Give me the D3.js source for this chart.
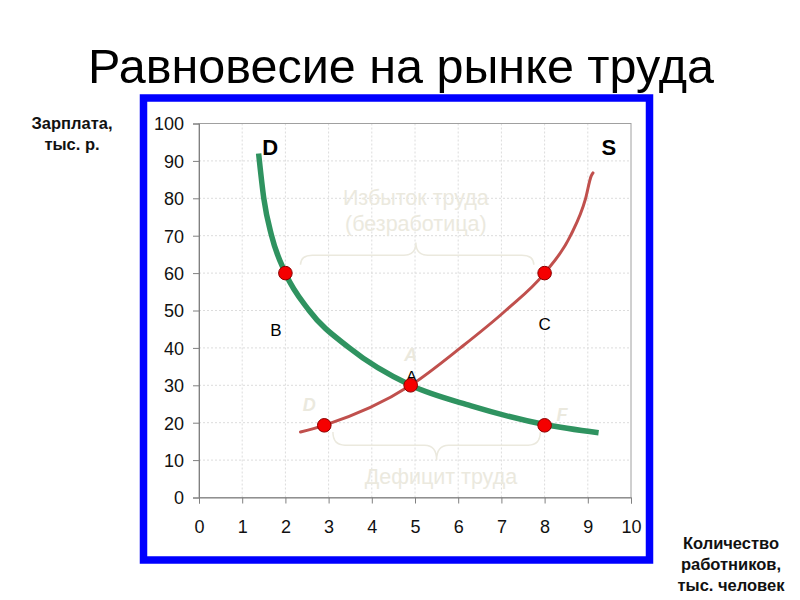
<!DOCTYPE html>
<html><head><meta charset="utf-8">
<script src="https://cdn.jsdelivr.net/npm/d3@7"></script>
<style>body{margin:0;background:#fff}svg{display:block}text{font-family:"Liberation Sans",Arial,sans-serif}</style>
</head><body>
<svg id="c" width="800" height="600"></svg>
<script>
const xTicks = [0,1,2,3,4,5,6,7,8,9,10];
const yTicks = [0,10,20,30,40,50,60,70,80,90,100];
const demandX = [1.38,1.5,1.68,2.0,2.55,3.48,4.9,6.3,8.0,9.25];
const demandY = [92,80,70,60,50,40,30,24.5,19.5,17.3];
const supplyX = [2.35,2.9,4.9,6.05,7.1,8.0,8.6,8.95,9.08,9.12];
const supplyY = [17.5,19.3,30,40,50,60,70,80,86,86.8];
const pointX = [2,8,4.9,2.9,8];
const pointY = [60,60,30,19.3,19.3];

const svg = d3.select("#c");
const x = d3.scaleLinear().domain([0,10]).range([199,631]);
const y = d3.scaleLinear().domain([0,100]).range([497.5,123.5]);

// title
svg.append("text").attr("x",401).attr("y",83).attr("text-anchor","middle")
  .attr("font-size",48.5).attr("fill","#000").text("Равновесие на рынке труда");

// blue frame
svg.append("rect").attr("x",143.5).attr("y",98).attr("width",506).attr("height",462)
  .attr("fill","#fff").attr("stroke","#0000ff").attr("stroke-width",7.5);

// grid
const g = svg.append("g");
g.selectAll(".vg").data(xTicks.slice(1,-1)).join("line")
  .attr("x1",d=>x(d)).attr("x2",d=>x(d)).attr("y1",y(100)).attr("y2",y(0))
  .attr("stroke","#dcdcdc").attr("stroke-dasharray","2,2").attr("stroke-width",1);
g.selectAll(".hg").data(yTicks.slice(1,-1)).join("line")
  .attr("x1",x(0)).attr("x2",x(10)).attr("y1",d=>y(d)).attr("y2",d=>y(d))
  .attr("stroke","#dcdcdc").attr("stroke-dasharray","2,2").attr("stroke-width",1);
g.append("rect").attr("x",x(0)).attr("y",y(100)).attr("width",x(10)-x(0)).attr("height",y(0)-y(100))
  .attr("fill","none").attr("stroke","#a0a0a0").attr("stroke-width",1);

// axes
const xAxis = d3.axisBottom(x).tickValues(xTicks).tickSize(6).tickPadding(17).tickFormat(d3.format("d"));
const ya = d3.axisLeft(y).tickValues(yTicks).tickSize(6).tickPadding(9).tickFormat(d3.format("d"));
const gx = svg.append("g").attr("transform",`translate(0,${y(0)})`).call(xAxis);
const gy = svg.append("g").attr("transform",`translate(${x(0)},0)`).call(ya);
[gx,gy].forEach(a=>{
  a.select(".domain").attr("stroke","#808080");
  a.selectAll(".tick line").attr("stroke","#808080");
  a.selectAll(".tick text").attr("font-size",18).attr("fill","#111")
   .attr("font-family","Liberation Sans, Arial, sans-serif");
});
gy.selectAll(".tick text").attr("dy","0.35em");

// faint annotations
const faint = "#ebe9de";
function brace(x1,x2,cx,y0,ym,tip){
  const q = 12*Math.sign(x2-x1);
  return `M${x1},${y0} Q${x1},${ym} ${x1+q},${ym} L${cx-q},${ym} Q${cx},${ym} ${cx},${tip} Q${cx},${ym} ${cx+q},${ym} L${x2-q},${ym} Q${x2},${ym} ${x2},${y0}`;
}
svg.append("path").attr("d",brace(x(2.35),x(7.75),x(5.02),y(62.2),y(64.8),y(68.2)))
  .attr("fill","none").attr("stroke",faint).attr("stroke-width",1.5);
svg.append("path").attr("d",brace(x(3.1),x(7.9),x(5.5),y(17.5),y(14),y(10)))
  .attr("fill","none").attr("stroke",faint).attr("stroke-width",1.5);
svg.append("text").attr("x",x(5.02)).attr("y",y(78.2)).attr("text-anchor","middle")
  .attr("font-size",21.5).attr("fill",faint).text("Избыток труда");
svg.append("text").attr("x",x(5.02)).attr("y",y(71.3)).attr("text-anchor","middle")
  .attr("font-size",21.5).attr("fill",faint).text("(безработица)");
svg.append("text").attr("x",x(5.6)).attr("y",y(3.7)).attr("text-anchor","middle")
  .attr("font-size",21.5).attr("fill",faint).text("Дефицит труда");
[["A",4.9,36.5],["D",2.55,23.2],["F",8.4,20.5]].forEach(([t,a,b])=>{
  svg.append("text").attr("x",x(a)).attr("y",y(b)).attr("text-anchor","middle")
    .attr("font-size",18).attr("font-weight","bold").attr("font-style","italic")
    .attr("fill",faint).text(t);
});

// curves
const line = d3.line().x(d=>x(d[0])).y(d=>y(d[1])).curve(d3.curveMonotoneX);
const demand = demandX.map((v,i)=>[v,demandY[i]]);
const supply = supplyX.map((v,i)=>[v,supplyY[i]]);
svg.append("path").attr("d",line(demand)).attr("fill","none")
  .attr("stroke","#2f9360").attr("stroke-width",5.5).attr("stroke-linecap","butt");
svg.append("path").attr("d",line(supply)).attr("fill","none")
  .attr("stroke","#c0504d").attr("stroke-width",3).attr("stroke-linecap","round");

// small black A behind the point
svg.append("text").attr("x",x(4.92)).attr("y",y(31.2)).attr("text-anchor","middle")
  .attr("font-size",15).attr("fill","#000").text("A");

// points
svg.selectAll(".pt").data(pointX.map((v,i)=>[v,pointY[i]])).join("circle")
  .attr("cx",d=>x(d[0])).attr("cy",d=>y(d[1])).attr("r",6.8)
  .attr("fill","#f50000").attr("stroke","#8a0000").attr("stroke-width",1);

// labels
svg.append("text").attr("x",x(1.65)).attr("y",y(91.6)).attr("text-anchor","middle")
  .attr("font-size",22).attr("font-weight","bold").attr("fill","#000").text("D");
svg.append("text").attr("x",x(9.49)).attr("y",y(91.6)).attr("text-anchor","middle")
  .attr("font-size",22).attr("font-weight","bold").attr("fill","#000").text("S");
svg.append("text").attr("x",x(1.78)).attr("y",y(43.3)).attr("text-anchor","middle")
  .attr("font-size",17).attr("fill","#000").text("B");
svg.append("text").attr("x",x(8)).attr("y",y(44.9)).attr("text-anchor","middle")
  .attr("font-size",17).attr("fill","#000").text("C");

// axis titles
const yl = svg.append("text").attr("text-anchor","middle").attr("font-size",16.5).attr("font-weight","bold").attr("fill","#111");
yl.append("tspan").attr("x",72).attr("y",129).text("Зарплата,");
yl.append("tspan").attr("x",72).attr("y",150).text("тыс. р.");
const xl = svg.append("text").attr("text-anchor","middle").attr("font-size",16.5).attr("font-weight","bold").attr("fill","#111");
xl.append("tspan").attr("x",731).attr("y",549).text("Количество");
xl.append("tspan").attr("x",731).attr("y",570).text("работников,");
xl.append("tspan").attr("x",731).attr("y",591).text("тыс. человек");
</script>
</body></html>
